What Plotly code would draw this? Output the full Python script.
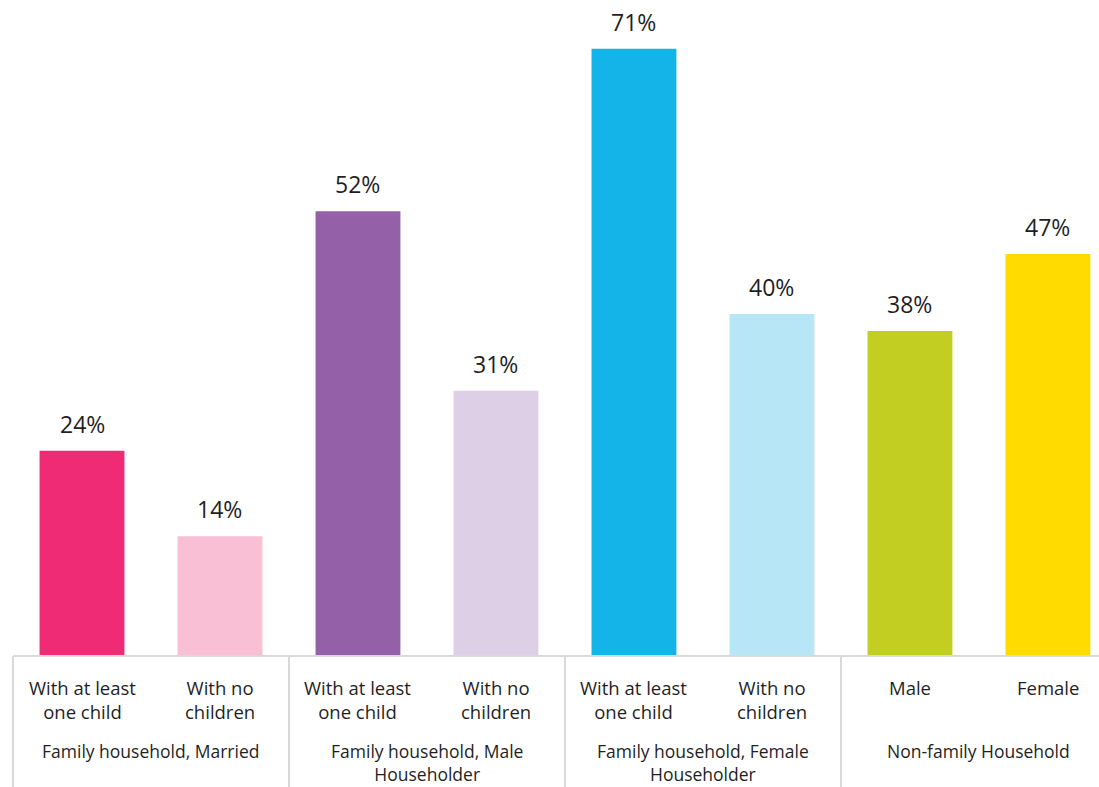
import plotly.graph_objects as go

# ---- data ----
groups = ["Family household, Married",
          "Family household, Male<br>Householder",
          "Family household, Female<br>Householder",
          "Non-family Household"]
subcats = ["With at least<br>one child", "With no<br>children",
           "With at least<br>one child", "With no<br>children",
           "With at least<br>one child", "With no<br>children",
           "Male", "Female"]
values = [24, 14, 52, 31, 71, 40, 38, 47]
colors = ["#F02B76", "#F8BFD5", "#9461A8", "#DDD0E6",
          "#15B4E8", "#B7E6F6", "#C3CE22", "#FFDB00"]

# ---- layout constants ----
W, H = 1099, 787
ML = 13
AXIS_Y = 656
MB = H - AXIS_Y
PLOT_H = AXIS_Y
X0, X1 = -0.5, 7.37
FONT = "Open Sans"
TXT = "#1F1F1F"
GRID = "#D9D9D9"

def ypaper(ypix):
    return (AXIS_Y - ypix) / PLOT_H

def xpaper(xd):
    return (xd - X0) / (X1 - X0)

xs = list(range(len(values)))

fig = go.Figure()
fig.add_trace(go.Bar(
    x=xs, y=values, marker=dict(color=colors, line=dict(width=0)),
    width=0.615, hoverinfo="skip", showlegend=False,
))

annotations = []
# value labels
for x, v in zip(xs, values):
    annotations.append(dict(x=x, y=v, xref="x", yref="y", text=f"{v}%",
                            showarrow=False, yanchor="bottom", yshift=9,
                            font=dict(family=FONT, size=23, color=TXT)))
# sub-category labels
for x, lab in zip(xs, subcats):
    annotations.append(dict(x=x, y=ypaper(673), xref="x", yref="paper",
                            text=lab, showarrow=False, yanchor="top",
                            font=dict(family=FONT, size=18.5, color=TXT)))
# group labels
for g, lab in enumerate(groups):
    annotations.append(dict(x=2 * g + 0.5, y=ypaper(737), xref="x", yref="paper",
                            text=lab, showarrow=False, yanchor="top",
                            font=dict(family=FONT, size=17.5, color=TXT)))

shapes = [dict(type="line", xref="paper", yref="paper", x0=0, x1=1, y0=0, y1=0,
               line=dict(color=GRID, width=2))]
for g in range(len(groups)):
    xb = xpaper(2 * g - 0.5)
    shapes.append(dict(type="line", xref="paper", yref="paper", x0=xb, x1=xb,
                       y0=0, y1=ypaper(H), line=dict(color=GRID, width=2)))

fig.update_layout(
    width=W, height=H,
    margin=dict(l=ML, r=0, t=0, b=MB, pad=0),
    paper_bgcolor="white", plot_bgcolor="white",
    xaxis=dict(range=[X0, X1], showticklabels=False, showgrid=False,
               zeroline=False, showline=False, ticks=""),
    yaxis=dict(range=[0, 76.7], showticklabels=False, showgrid=False,
               zeroline=False, showline=False, ticks=""),
    annotations=annotations, shapes=shapes,
)

fig.write_html("out.html")
